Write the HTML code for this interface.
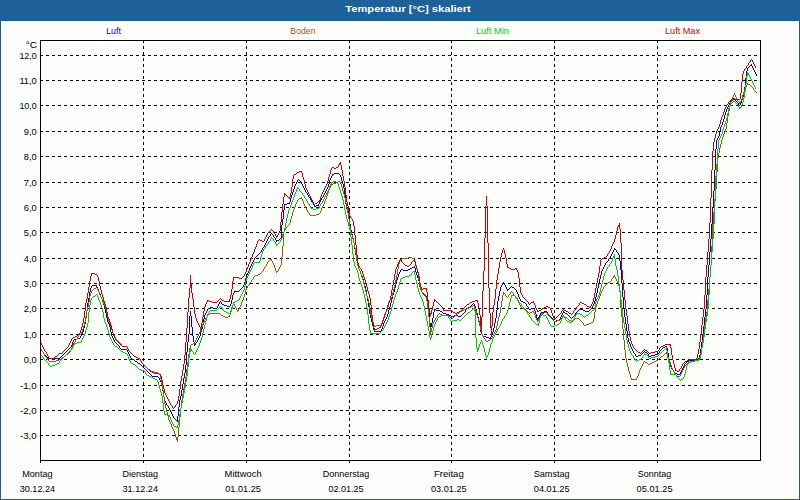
<!DOCTYPE html>
<html><head><meta charset="utf-8"><title>Temperatur</title>
<style>
html,body{margin:0;padding:0;background:#fcfefc;}
body{width:800px;height:500px;overflow:hidden;}
svg{display:block;font-family:"Liberation Sans",sans-serif;}
.g line{stroke:#000;stroke-width:1;stroke-dasharray:3 3;}
.ax{stroke:#000;stroke-width:1;fill:none;}
.c path{stroke:none;}
.t{font-size:9.8px;}
</style></head><body>
<svg width="800" height="500" viewBox="0 0 800 500">
<rect x="0" y="0" width="800" height="500" fill="#fcfefc"/>
<rect x="0" y="0" width="800" height="20" fill="#1e6098"/>
<rect x="0" y="20" width="800" height="1" fill="#1c5e96"/>
<rect x="0" y="20" width="1" height="480" fill="#1c5e96"/>
<rect x="799" y="20" width="1" height="480" fill="#1c5e96"/>
<rect x="0" y="499" width="800" height="1" fill="#1c5e96"/>
<text x="345.3" y="12" font-size="9.9px" font-weight="bold" fill="#fff" textLength="125.5" lengthAdjust="spacingAndGlyphs">Temperatur [°C] skaliert</text>

<text class="t" x="106.2" y="33.7" fill="#0000dd" text-anchor="start" textLength="14.8" lengthAdjust="spacingAndGlyphs">Luft</text>
<text class="t" x="290.3" y="33.7" fill="#9a5a08" text-anchor="start" textLength="25.3" lengthAdjust="spacingAndGlyphs">Boden</text>
<text class="t" x="475.9" y="33.7" fill="#00cc00" text-anchor="start" textLength="33.1" lengthAdjust="spacingAndGlyphs">Luft Min</text>
<text class="t" x="665" y="33.7" fill="#cc0000" text-anchor="start" textLength="35" lengthAdjust="spacingAndGlyphs">Luft Max</text>
<g class="g" shape-rendering="crispEdges">
<line x1="40" y1="435.5" x2="760" y2="435.5"/>
<line x1="40" y1="410.5" x2="760" y2="410.5"/>
<line x1="40" y1="385.5" x2="760" y2="385.5"/>
<line x1="40" y1="359.5" x2="760" y2="359.5"/>
<line x1="40" y1="334.5" x2="760" y2="334.5"/>
<line x1="40" y1="308.5" x2="760" y2="308.5"/>
<line x1="40" y1="283.5" x2="760" y2="283.5"/>
<line x1="40" y1="258.5" x2="760" y2="258.5"/>
<line x1="40" y1="232.5" x2="760" y2="232.5"/>
<line x1="40" y1="207.5" x2="760" y2="207.5"/>
<line x1="40" y1="182.5" x2="760" y2="182.5"/>
<line x1="40" y1="156.5" x2="760" y2="156.5"/>
<line x1="40" y1="131.5" x2="760" y2="131.5"/>
<line x1="40" y1="105.5" x2="760" y2="105.5"/>
<line x1="40" y1="80.5" x2="760" y2="80.5"/>
<line x1="40" y1="55.5" x2="760" y2="55.5"/>
<line x1="143.5" y1="40" x2="143.5" y2="460"/>
<line x1="246.5" y1="40" x2="246.5" y2="460"/>
<line x1="349.5" y1="40" x2="349.5" y2="460"/>
<line x1="451.5" y1="40" x2="451.5" y2="460"/>
<line x1="554.5" y1="40" x2="554.5" y2="460"/>
<line x1="657.5" y1="40" x2="657.5" y2="460"/>
</g>
<g class="c" shape-rendering="crispEdges">
<path fill="#0000dd" d="M41 349h1v2h-1zM43 352h1v2h-1zM71 345h1v2h-1zM72 342h1v3h-1zM73 340h1v2h-1zM80 336h1v2h-1zM81 334h1v2h-1zM82 332h1v2h-1zM83 328h1v4h-1zM84 324h1v4h-1zM85 318h1v6h-1zM86 311h1v7h-1zM87 303h1v8h-1zM88 298h1v5h-1zM89 292h1v6h-1zM90 288h1v4h-1zM91 286h1v2h-1zM96 285h1v2h-1zM97 287h1v2h-1zM98 289h1v3h-1zM99 292h1v2h-1zM100 294h1v3h-1zM101 297h1v2h-1zM102 299h1v3h-1zM103 302h1v3h-1zM104 305h1v4h-1zM105 309h1v4h-1zM106 313h1v5h-1zM107 318h1v4h-1zM108 322h1v2h-1zM109 324h1v3h-1zM110 327h1v5h-1zM111 332h1v4h-1zM112 336h1v2h-1zM113 338h1v2h-1zM114 340h1v2h-1zM119 346h1v2h-1zM127 350h1v2h-1zM128 352h1v2h-1zM129 354h1v2h-1zM130 356h1v2h-1zM159 378h1v2h-1zM160 380h1v2h-1zM161 382h1v4h-1zM162 386h1v5h-1zM163 391h1v6h-1zM164 397h1v4h-1zM165 401h1v2h-1zM166 403h1v2h-1zM168 406h1v2h-1zM169 408h1v2h-1zM170 410h1v2h-1zM171 412h1v2h-1zM172 414h1v2h-1zM173 416h1v2h-1zM177 416h1v6h-1zM178 407h1v9h-1zM179 400h1v7h-1zM180 396h1v4h-1zM181 390h1v6h-1zM182 384h1v6h-1zM183 378h1v6h-1zM184 373h1v5h-1zM185 365h1v8h-1zM186 352h1v13h-1zM187 342h1v10h-1zM188 334h1v8h-1zM189 316h1v18h-1zM190 311h1v5h-1zM191 316h1v11h-1zM192 327h1v9h-1zM193 336h1v6h-1zM194 342h1v4h-1zM195 343h1v2h-1zM197 340h1v2h-1zM198 338h1v2h-1zM199 336h1v2h-1zM200 332h1v4h-1zM201 329h1v3h-1zM202 325h1v4h-1zM203 319h1v6h-1zM204 315h1v4h-1zM205 313h1v2h-1zM206 311h1v2h-1zM207 309h1v2h-1zM217 306h1v2h-1zM218 304h1v2h-1zM219 302h1v2h-1zM221 302h1v2h-1zM230 304h1v2h-1zM231 300h1v4h-1zM232 295h1v5h-1zM233 293h1v2h-1zM234 291h1v2h-1zM243 285h1v2h-1zM244 282h1v3h-1zM245 278h1v4h-1zM246 275h1v3h-1zM247 273h1v2h-1zM248 271h1v2h-1zM249 268h1v3h-1zM250 266h1v2h-1zM251 264h1v2h-1zM252 262h1v2h-1zM253 260h1v2h-1zM254 258h1v2h-1zM261 250h1v2h-1zM262 248h1v2h-1zM264 245h1v2h-1zM265 243h1v2h-1zM266 241h1v2h-1zM267 239h1v2h-1zM268 237h1v2h-1zM270 234h1v2h-1zM273 235h1v2h-1zM275 238h1v2h-1zM276 240h1v2h-1zM281 225h1v13h-1zM282 219h1v6h-1zM283 210h1v9h-1zM284 204h1v6h-1zM289 202h1v2h-1zM290 198h1v4h-1zM291 195h1v3h-1zM292 192h1v3h-1zM293 189h1v3h-1zM294 186h1v3h-1zM295 184h1v2h-1zM296 182h1v2h-1zM297 180h1v2h-1zM301 182h1v2h-1zM302 184h1v2h-1zM303 186h1v2h-1zM304 188h1v2h-1zM305 190h1v2h-1zM307 193h1v2h-1zM308 195h1v2h-1zM310 198h1v2h-1zM311 200h1v2h-1zM313 203h1v2h-1zM314 205h1v2h-1zM318 204h1v2h-1zM319 202h1v2h-1zM320 200h1v2h-1zM321 198h1v2h-1zM323 195h1v2h-1zM324 193h1v2h-1zM325 191h1v2h-1zM326 189h1v2h-1zM327 187h1v2h-1zM328 184h1v3h-1zM329 180h1v4h-1zM330 178h1v2h-1zM331 176h1v2h-1zM332 174h1v2h-1zM340 175h1v2h-1zM341 177h1v4h-1zM342 181h1v3h-1zM343 184h1v4h-1zM344 188h1v7h-1zM345 195h1v9h-1zM346 204h1v5h-1zM347 209h1v2h-1zM348 211h1v5h-1zM349 216h1v8h-1zM350 224h1v6h-1zM351 230h1v4h-1zM352 234h1v4h-1zM353 238h1v5h-1zM354 243h1v6h-1zM355 249h1v6h-1zM356 255h1v6h-1zM357 261h1v5h-1zM358 266h1v3h-1zM359 269h1v2h-1zM360 271h1v3h-1zM361 274h1v2h-1zM362 276h1v3h-1zM363 279h1v4h-1zM364 283h1v3h-1zM365 286h1v4h-1zM366 290h1v6h-1zM367 296h1v5h-1zM368 301h1v6h-1zM369 307h1v7h-1zM370 314h1v4h-1zM371 318h1v4h-1zM372 322h1v4h-1zM373 326h1v4h-1zM374 330h1v2h-1zM381 329h1v2h-1zM382 326h1v3h-1zM383 323h1v3h-1zM384 321h1v2h-1zM385 319h1v2h-1zM386 317h1v2h-1zM387 314h1v3h-1zM388 310h1v4h-1zM389 307h1v3h-1zM390 303h1v4h-1zM391 299h1v4h-1zM392 295h1v4h-1zM393 292h1v3h-1zM394 288h1v4h-1zM395 284h1v4h-1zM396 280h1v4h-1zM397 277h1v3h-1zM398 274h1v3h-1zM399 272h1v2h-1zM400 270h1v2h-1zM414 266h1v2h-1zM415 268h1v4h-1zM416 272h1v3h-1zM417 275h1v3h-1zM418 278h1v3h-1zM419 281h1v6h-1zM420 287h1v3h-1zM421 290h1v2h-1zM426 296h1v3h-1zM427 299h1v4h-1zM428 303h1v9h-1zM429 312h1v11h-1zM430 323h1v6h-1zM431 323h1v4h-1zM432 318h1v5h-1zM433 312h1v6h-1zM434 309h1v3h-1zM465 310h1v2h-1zM474 304h1v2h-1zM475 306h1v3h-1zM476 309h1v4h-1zM477 313h1v4h-1zM478 317h1v4h-1zM479 321h1v5h-1zM480 326h1v6h-1zM481 332h1v2h-1zM482 334h1v2h-1zM490 337h1v2h-1zM491 335h1v2h-1zM492 332h1v3h-1zM493 328h1v4h-1zM494 323h1v5h-1zM495 318h1v5h-1zM496 310h1v8h-1zM497 301h1v9h-1zM498 296h1v5h-1zM499 291h1v5h-1zM500 287h1v4h-1zM501 285h1v2h-1zM502 283h1v2h-1zM504 283h1v2h-1zM505 285h1v2h-1zM506 287h1v2h-1zM507 289h1v2h-1zM516 290h1v2h-1zM517 292h1v2h-1zM518 294h1v3h-1zM519 297h1v2h-1zM520 299h1v2h-1zM526 304h1v2h-1zM528 307h1v2h-1zM534 309h1v2h-1zM535 311h1v3h-1zM536 314h1v4h-1zM537 318h1v2h-1zM538 317h1v2h-1zM539 315h1v2h-1zM540 313h1v2h-1zM547 312h1v2h-1zM553 319h1v2h-1zM560 317h1v2h-1zM561 315h1v2h-1zM562 313h1v2h-1zM563 311h1v2h-1zM575 313h1v2h-1zM592 306h1v2h-1zM593 304h1v2h-1zM594 301h1v3h-1zM595 297h1v4h-1zM596 293h1v4h-1zM597 288h1v5h-1zM598 283h1v5h-1zM599 279h1v4h-1zM600 275h1v4h-1zM601 271h1v4h-1zM602 269h1v2h-1zM603 267h1v2h-1zM604 265h1v2h-1zM605 263h1v2h-1zM608 259h1v2h-1zM610 256h1v2h-1zM611 254h1v2h-1zM612 252h1v2h-1zM613 250h1v2h-1zM614 248h1v2h-1zM616 250h1v2h-1zM618 253h1v2h-1zM619 255h1v6h-1zM620 261h1v9h-1zM621 270h1v13h-1zM622 283h1v14h-1zM623 297h1v11h-1zM624 308h1v9h-1zM625 317h1v7h-1zM626 324h1v7h-1zM627 331h1v7h-1zM628 338h1v4h-1zM629 342h1v2h-1zM630 344h1v3h-1zM631 347h1v2h-1zM632 349h1v2h-1zM633 351h1v2h-1zM635 354h1v2h-1zM648 354h1v2h-1zM659 351h1v2h-1zM666 346h1v2h-1zM667 348h1v5h-1zM668 353h1v6h-1zM669 359h1v5h-1zM670 364h1v3h-1zM671 367h1v2h-1zM673 370h1v2h-1zM680 372h1v2h-1zM681 370h1v2h-1zM682 368h1v2h-1zM683 366h1v2h-1zM684 364h1v2h-1zM699 355h1v3h-1zM700 349h1v6h-1zM701 342h1v7h-1zM702 334h1v8h-1zM703 326h1v8h-1zM704 317h1v9h-1zM705 309h1v8h-1zM706 295h1v14h-1zM707 277h1v18h-1zM708 265h1v12h-1zM709 252h1v13h-1zM710 239h1v13h-1zM711 224h1v15h-1zM712 207h1v17h-1zM713 191h1v16h-1zM714 170h1v21h-1zM715 149h1v21h-1zM716 140h1v9h-1zM717 138h1v2h-1zM718 136h1v2h-1zM719 132h1v4h-1zM720 127h1v5h-1zM721 125h1v2h-1zM722 122h1v3h-1zM723 119h1v3h-1zM724 115h1v4h-1zM725 112h1v3h-1zM726 109h1v3h-1zM727 107h1v2h-1zM728 105h1v2h-1zM729 103h1v2h-1zM730 101h1v2h-1zM738 103h1v2h-1zM740 103h1v2h-1zM741 100h1v3h-1zM742 97h1v3h-1zM743 93h1v4h-1zM744 87h1v6h-1zM745 78h1v9h-1zM746 71h1v7h-1zM747 68h1v3h-1zM751 64h1v2h-1zM752 66h1v2h-1zM753 68h1v2h-1zM754 70h1v2h-1zM755 72h1v2h-1zM756 74h1v2h-1zM750 65h1v1h-1zM749 66h1v1h-1zM748 67h1v1h-1zM733 99h2v1h-2zM731 100h2v1h-2zM735 100h1v1h-1zM736 101h1v1h-1zM737 102h1v1h-1zM739 105h1v1h-1zM334 173h5v1h-5zM333 174h1v1h-1zM339 174h1v1h-1zM298 179h1v1h-1zM299 180h1v1h-1zM300 181h1v1h-1zM306 192h1v1h-1zM309 197h1v1h-1zM322 197h1v1h-1zM312 202h1v1h-1zM287 203h2v1h-2zM285 204h2v1h-2zM316 205h2v1h-2zM315 206h1v1h-1zM271 233h1v1h-1zM272 234h1v1h-1zM269 236h1v1h-1zM274 237h1v1h-1zM280 238h1v1h-1zM279 239h1v1h-1zM277 240h2v1h-2zM263 247h1v1h-1zM615 249h1v1h-1zM260 252h1v1h-1zM617 252h1v1h-1zM259 253h1v1h-1zM258 254h1v1h-1zM257 255h1v1h-1zM256 256h1v1h-1zM255 257h1v1h-1zM609 258h1v1h-1zM607 261h1v1h-1zM606 262h1v1h-1zM412 267h2v1h-2zM410 268h2v1h-2zM401 269h2v1h-2zM408 269h2v1h-2zM403 270h5v1h-5zM503 282h1v1h-1zM92 285h4v1h-4zM511 286h1v1h-1zM242 287h1v1h-1zM510 287h1v1h-1zM512 287h2v1h-2zM241 288h1v1h-1zM509 288h1v1h-1zM514 288h1v1h-1zM240 289h1v1h-1zM508 289h1v1h-1zM515 289h1v1h-1zM239 290h1v1h-1zM235 291h4v1h-4zM422 292h1v1h-1zM423 293h1v1h-1zM424 294h1v1h-1zM425 295h1v1h-1zM220 301h1v1h-1zM521 301h2v1h-2zM523 302h2v1h-2zM473 303h1v1h-1zM525 303h1v1h-1zM222 304h2v1h-2zM472 304h1v1h-1zM224 305h3v1h-3zM471 305h1v1h-1zM227 306h3v1h-3zM470 306h1v1h-1zM527 306h1v1h-1zM210 307h3v1h-3zM468 307h2v1h-2zM208 308h2v1h-2zM213 308h4v1h-4zM467 308h1v1h-1zM531 308h3v1h-3zM591 308h1v1h-1zM435 309h1v1h-1zM466 309h1v1h-1zM529 309h2v1h-2zM579 309h4v1h-4zM590 309h1v1h-1zM436 310h4v1h-4zM578 310h1v1h-1zM583 310h2v1h-2zM589 310h1v1h-1zM440 311h2v1h-2zM544 311h3v1h-3zM577 311h1v1h-1zM585 311h4v1h-4zM442 312h1v1h-1zM464 312h1v1h-1zM541 312h3v1h-3zM564 312h1v1h-1zM576 312h1v1h-1zM443 313h3v1h-3zM463 313h1v1h-1zM565 313h2v1h-2zM446 314h3v1h-3zM462 314h1v1h-1zM548 314h1v1h-1zM567 314h1v1h-1zM449 315h2v1h-2zM454 315h4v1h-4zM461 315h1v1h-1zM549 315h1v1h-1zM568 315h1v1h-1zM574 315h1v1h-1zM451 316h3v1h-3zM458 316h3v1h-3zM550 316h1v1h-1zM569 316h1v1h-1zM573 316h1v1h-1zM551 317h1v1h-1zM570 317h1v1h-1zM572 317h1v1h-1zM552 318h1v1h-1zM571 318h1v1h-1zM559 319h1v1h-1zM556 320h3v1h-3zM554 321h2v1h-2zM375 331h6v1h-6zM483 336h3v1h-3zM486 337h3v1h-3zM77 338h3v1h-3zM489 338h1v1h-1zM74 339h3v1h-3zM115 342h1v1h-1zM196 342h1v1h-1zM116 343h1v1h-1zM117 344h1v1h-1zM118 345h1v1h-1zM665 346h1v1h-1zM70 347h1v1h-1zM663 347h2v1h-2zM40 348h1v1h-1zM69 348h1v1h-1zM120 348h1v1h-1zM662 348h1v1h-1zM68 349h1v1h-1zM121 349h6v1h-6zM661 349h1v1h-1zM67 350h1v1h-1zM660 350h1v1h-1zM42 351h1v1h-1zM66 351h1v1h-1zM644 351h1v1h-1zM65 352h1v1h-1zM643 352h1v1h-1zM645 352h2v1h-2zM64 353h1v1h-1zM634 353h1v1h-1zM642 353h1v1h-1zM647 353h1v1h-1zM658 353h1v1h-1zM44 354h1v1h-1zM63 354h1v1h-1zM641 354h1v1h-1zM655 354h3v1h-3zM45 355h1v1h-1zM62 355h1v1h-1zM638 355h3v1h-3zM651 355h4v1h-4zM46 356h1v1h-1zM61 356h1v1h-1zM636 356h2v1h-2zM649 356h2v1h-2zM47 357h1v1h-1zM60 357h1v1h-1zM48 358h12v1h-12zM131 358h1v1h-1zM698 358h1v1h-1zM132 359h2v1h-2zM694 359h4v1h-4zM134 360h1v1h-1zM689 360h5v1h-5zM135 361h2v1h-2zM687 361h2v1h-2zM137 362h1v1h-1zM686 362h1v1h-1zM138 363h2v1h-2zM685 363h1v1h-1zM140 364h1v1h-1zM141 365h1v1h-1zM142 366h1v1h-1zM143 367h1v1h-1zM144 368h1v1h-1zM145 369h1v1h-1zM672 369h1v1h-1zM146 370h1v1h-1zM147 371h1v1h-1zM148 372h1v1h-1zM674 372h1v1h-1zM149 373h1v1h-1zM675 373h2v1h-2zM150 374h1v1h-1zM677 374h3v1h-3zM151 375h1v1h-1zM152 376h6v1h-6zM158 377h1v1h-1zM167 405h1v1h-1zM174 418h1v1h-1zM175 419h1v1h-1zM176 420h1v1h-1z"/>
<path fill="#9a5a08" d="M41 349h1v2h-1zM43 352h1v2h-1zM44 354h1v2h-1zM47 358h1v2h-1zM70 350h1v2h-1zM71 348h1v2h-1zM72 345h1v3h-1zM73 343h1v2h-1zM75 340h1v2h-1zM77 337h1v2h-1zM78 335h1v2h-1zM81 332h1v2h-1zM82 329h1v3h-1zM83 326h1v3h-1zM84 322h1v4h-1zM85 317h1v5h-1zM86 311h1v6h-1zM87 307h1v4h-1zM88 302h1v5h-1zM89 296h1v6h-1zM90 293h1v3h-1zM91 291h1v2h-1zM97 288h1v2h-1zM98 290h1v2h-1zM99 292h1v3h-1zM100 295h1v2h-1zM101 297h1v2h-1zM102 299h1v2h-1zM103 301h1v3h-1zM104 304h1v2h-1zM105 306h1v3h-1zM106 309h1v4h-1zM107 313h1v5h-1zM108 318h1v4h-1zM109 322h1v2h-1zM110 324h1v3h-1zM111 327h1v3h-1zM112 330h1v3h-1zM113 333h1v2h-1zM114 335h1v2h-1zM115 337h1v2h-1zM121 344h1v2h-1zM127 347h1v2h-1zM128 349h1v2h-1zM140 359h1v2h-1zM141 361h1v2h-1zM160 375h1v4h-1zM161 379h1v6h-1zM162 385h1v5h-1zM163 390h1v7h-1zM164 397h1v7h-1zM165 404h1v4h-1zM166 408h1v4h-1zM167 412h1v4h-1zM168 416h1v4h-1zM169 420h1v2h-1zM170 422h1v2h-1zM171 424h1v3h-1zM172 427h1v2h-1zM173 429h1v2h-1zM174 431h1v3h-1zM175 434h1v3h-1zM176 437h1v3h-1zM177 437h1v5h-1zM178 427h1v10h-1zM179 417h1v10h-1zM180 408h1v9h-1zM181 400h1v8h-1zM182 394h1v6h-1zM183 388h1v6h-1zM184 383h1v5h-1zM185 377h1v6h-1zM186 369h1v8h-1zM187 362h1v7h-1zM188 354h1v8h-1zM189 348h1v6h-1zM190 345h1v3h-1zM194 342h1v2h-1zM195 340h1v2h-1zM196 338h1v2h-1zM197 336h1v2h-1zM198 334h1v2h-1zM199 332h1v2h-1zM200 329h1v3h-1zM201 327h1v2h-1zM202 324h1v3h-1zM203 322h1v2h-1zM204 320h1v2h-1zM205 318h1v2h-1zM207 315h1v2h-1zM229 315h1v2h-1zM230 311h1v4h-1zM231 307h1v4h-1zM232 305h1v2h-1zM233 303h1v2h-1zM234 304h1v2h-1zM235 306h1v2h-1zM236 308h1v2h-1zM237 310h1v2h-1zM238 309h1v2h-1zM239 307h1v2h-1zM240 305h1v2h-1zM241 302h1v3h-1zM242 300h1v2h-1zM243 297h1v3h-1zM244 294h1v3h-1zM245 290h1v4h-1zM246 288h1v2h-1zM247 286h1v2h-1zM249 283h1v2h-1zM251 280h1v2h-1zM253 277h1v2h-1zM263 269h1v2h-1zM264 267h1v2h-1zM266 264h1v2h-1zM267 262h1v2h-1zM271 259h1v2h-1zM272 261h1v2h-1zM273 263h1v2h-1zM274 265h1v3h-1zM275 268h1v3h-1zM276 271h1v2h-1zM278 269h1v2h-1zM279 267h1v2h-1zM280 265h1v2h-1zM281 257h1v8h-1zM282 246h1v11h-1zM283 232h1v14h-1zM284 230h1v2h-1zM285 228h1v2h-1zM289 223h1v2h-1zM290 219h1v4h-1zM291 216h1v3h-1zM292 212h1v4h-1zM293 209h1v3h-1zM294 207h1v2h-1zM295 204h1v3h-1zM296 202h1v2h-1zM297 200h1v2h-1zM301 197h1v2h-1zM302 199h1v2h-1zM303 201h1v3h-1zM304 204h1v2h-1zM305 206h1v2h-1zM306 208h1v2h-1zM307 210h1v2h-1zM309 213h1v2h-1zM320 211h1v2h-1zM321 208h1v3h-1zM322 206h1v2h-1zM323 204h1v2h-1zM324 201h1v3h-1zM325 199h1v2h-1zM326 196h1v3h-1zM327 193h1v3h-1zM328 190h1v3h-1zM329 188h1v2h-1zM330 186h1v2h-1zM331 184h1v2h-1zM340 182h1v2h-1zM341 184h1v3h-1zM342 187h1v4h-1zM343 191h1v3h-1zM344 194h1v4h-1zM345 198h1v5h-1zM346 203h1v5h-1zM347 208h1v5h-1zM348 213h1v6h-1zM349 219h1v7h-1zM350 226h1v6h-1zM351 232h1v3h-1zM352 235h1v4h-1zM353 239h1v4h-1zM354 243h1v5h-1zM355 248h1v6h-1zM356 254h1v7h-1zM357 261h1v5h-1zM358 266h1v3h-1zM359 269h1v2h-1zM360 271h1v3h-1zM361 274h1v3h-1zM362 277h1v3h-1zM363 280h1v4h-1zM364 284h1v4h-1zM365 288h1v4h-1zM366 292h1v4h-1zM367 296h1v3h-1zM368 299h1v4h-1zM369 303h1v6h-1zM370 309h1v6h-1zM371 315h1v4h-1zM372 319h1v3h-1zM373 322h1v3h-1zM374 325h1v2h-1zM381 323h1v2h-1zM382 320h1v3h-1zM383 317h1v3h-1zM384 314h1v3h-1zM385 312h1v2h-1zM386 310h1v2h-1zM387 307h1v3h-1zM388 303h1v4h-1zM389 300h1v3h-1zM391 297h1v2h-1zM392 293h1v4h-1zM393 289h1v4h-1zM394 285h1v4h-1zM395 280h1v5h-1zM396 275h1v5h-1zM397 269h1v6h-1zM398 264h1v5h-1zM399 261h1v3h-1zM400 259h1v2h-1zM414 259h1v2h-1zM415 261h1v4h-1zM416 265h1v4h-1zM417 269h1v4h-1zM418 273h1v7h-1zM419 280h1v6h-1zM420 286h1v4h-1zM421 290h1v2h-1zM422 292h1v2h-1zM426 297h1v4h-1zM427 301h1v8h-1zM428 309h1v8h-1zM429 317h1v10h-1zM430 327h1v7h-1zM431 328h1v4h-1zM432 324h1v4h-1zM433 322h1v2h-1zM434 320h1v2h-1zM435 318h1v2h-1zM437 315h1v2h-1zM474 306h1v2h-1zM475 308h1v3h-1zM476 311h1v4h-1zM477 315h1v3h-1zM478 318h1v4h-1zM479 322h1v4h-1zM480 326h1v4h-1zM481 330h1v4h-1zM482 334h1v2h-1zM483 336h1v2h-1zM485 339h1v2h-1zM492 336h1v2h-1zM493 334h1v2h-1zM494 332h1v2h-1zM495 330h1v2h-1zM496 326h1v4h-1zM497 321h1v5h-1zM498 317h1v4h-1zM499 313h1v4h-1zM500 307h1v6h-1zM501 301h1v6h-1zM502 295h1v6h-1zM503 292h1v3h-1zM505 294h1v2h-1zM508 295h1v2h-1zM510 292h1v2h-1zM513 293h1v2h-1zM515 296h1v2h-1zM517 299h1v2h-1zM518 301h1v2h-1zM519 303h1v2h-1zM520 305h1v2h-1zM533 311h1v2h-1zM534 313h1v2h-1zM535 315h1v3h-1zM536 318h1v2h-1zM537 320h1v2h-1zM538 319h1v2h-1zM539 317h1v2h-1zM540 315h1v2h-1zM541 313h1v2h-1zM547 313h1v2h-1zM562 316h1v2h-1zM583 323h1v2h-1zM593 319h1v3h-1zM594 312h1v7h-1zM595 307h1v5h-1zM596 304h1v3h-1zM597 301h1v3h-1zM598 299h1v2h-1zM599 296h1v3h-1zM600 293h1v3h-1zM601 291h1v2h-1zM602 289h1v2h-1zM603 287h1v2h-1zM611 279h1v2h-1zM613 276h1v2h-1zM614 275h1v2h-1zM615 277h1v2h-1zM616 279h1v2h-1zM617 281h1v2h-1zM618 283h1v3h-1zM619 286h1v5h-1zM620 291h1v17h-1zM621 308h1v9h-1zM622 317h1v12h-1zM623 329h1v11h-1zM624 340h1v10h-1zM625 350h1v8h-1zM626 358h1v5h-1zM627 363h1v4h-1zM628 367h1v4h-1zM629 371h1v3h-1zM630 374h1v4h-1zM631 378h1v2h-1zM636 378h1v2h-1zM637 376h1v2h-1zM638 373h1v3h-1zM639 370h1v3h-1zM640 368h1v2h-1zM641 366h1v2h-1zM642 364h1v2h-1zM643 362h1v2h-1zM666 352h1v2h-1zM667 354h1v3h-1zM668 357h1v3h-1zM669 360h1v2h-1zM670 362h1v3h-1zM671 365h1v3h-1zM672 368h1v2h-1zM673 370h1v2h-1zM674 372h1v2h-1zM680 374h1v2h-1zM681 372h1v2h-1zM682 370h1v2h-1zM683 368h1v2h-1zM684 366h1v2h-1zM699 357h1v2h-1zM700 353h1v4h-1zM701 347h1v6h-1zM702 340h1v7h-1zM703 333h1v7h-1zM704 325h1v8h-1zM705 318h1v7h-1zM706 312h1v6h-1zM707 300h1v12h-1zM708 289h1v11h-1zM709 277h1v12h-1zM710 265h1v12h-1zM711 246h1v19h-1zM712 224h1v22h-1zM713 212h1v12h-1zM714 201h1v11h-1zM715 189h1v12h-1zM716 172h1v17h-1zM717 158h1v14h-1zM718 153h1v5h-1zM719 148h1v5h-1zM720 144h1v4h-1zM721 140h1v4h-1zM722 137h1v3h-1zM723 134h1v3h-1zM724 132h1v2h-1zM725 129h1v3h-1zM726 123h1v6h-1zM727 116h1v7h-1zM728 111h1v5h-1zM729 106h1v5h-1zM730 102h1v4h-1zM731 100h1v2h-1zM732 97h1v3h-1zM733 95h1v2h-1zM734 93h1v2h-1zM735 95h1v2h-1zM736 97h1v2h-1zM737 99h1v2h-1zM739 102h1v2h-1zM740 101h1v2h-1zM741 99h1v2h-1zM742 95h1v4h-1zM743 92h1v3h-1zM744 89h1v3h-1zM745 87h1v2h-1zM746 85h1v2h-1zM747 83h1v2h-1zM753 88h1v2h-1zM748 84h2v1h-2zM750 85h1v1h-1zM751 86h1v1h-1zM752 87h1v1h-1zM754 90h1v1h-1zM755 91h1v1h-1zM756 92h1v1h-1zM738 101h1v1h-1zM338 181h2v1h-2zM336 182h2v1h-2zM333 183h3v1h-3zM332 184h1v1h-1zM299 198h2v1h-2zM298 199h1v1h-1zM308 212h1v1h-1zM319 213h1v1h-1zM316 214h3v1h-3zM310 215h6v1h-6zM288 225h1v1h-1zM287 226h1v1h-1zM286 227h1v1h-1zM408 257h4v1h-4zM402 258h6v1h-6zM412 258h2v1h-2zM270 259h1v1h-1zM401 259h1v1h-1zM269 260h1v1h-1zM268 261h1v1h-1zM265 266h1v1h-1zM262 271h1v1h-1zM277 271h1v1h-1zM261 272h1v1h-1zM260 273h1v1h-1zM258 274h2v1h-2zM255 275h3v1h-3zM254 276h1v1h-1zM612 278h1v1h-1zM252 279h1v1h-1zM610 281h1v1h-1zM250 282h1v1h-1zM608 282h2v1h-2zM607 283h1v1h-1zM606 284h1v1h-1zM248 285h1v1h-1zM605 285h1v1h-1zM604 286h1v1h-1zM96 287h1v1h-1zM94 288h2v1h-2zM93 289h1v1h-1zM92 290h1v1h-1zM511 291h1v1h-1zM512 292h1v1h-1zM504 293h1v1h-1zM423 294h1v1h-1zM509 294h1v1h-1zM424 295h1v1h-1zM514 295h1v1h-1zM425 296h1v1h-1zM506 296h1v1h-1zM507 297h1v1h-1zM516 298h1v1h-1zM390 299h1v1h-1zM473 305h1v1h-1zM471 306h2v1h-2zM469 307h2v1h-2zM521 307h1v1h-1zM467 308h2v1h-2zM522 308h2v1h-2zM464 309h3v1h-3zM524 309h1v1h-1zM462 310h2v1h-2zM525 310h2v1h-2zM460 311h2v1h-2zM527 311h1v1h-1zM532 311h1v1h-1zM459 312h1v1h-1zM528 312h1v1h-1zM530 312h2v1h-2zM544 312h3v1h-3zM210 313h10v1h-10zM439 313h1v1h-1zM457 313h2v1h-2zM529 313h1v1h-1zM542 313h2v1h-2zM208 314h2v1h-2zM220 314h1v1h-1zM438 314h1v1h-1zM440 314h2v1h-2zM456 314h1v1h-1zM221 315h2v1h-2zM442 315h7v1h-7zM455 315h1v1h-1zM548 315h1v1h-1zM563 315h1v1h-1zM223 316h2v1h-2zM228 316h1v1h-1zM449 316h1v1h-1zM454 316h1v1h-1zM549 316h1v1h-1zM564 316h1v1h-1zM206 317h1v1h-1zM225 317h3v1h-3zM436 317h1v1h-1zM450 317h2v1h-2zM453 317h1v1h-1zM550 317h1v1h-1zM565 317h2v1h-2zM452 318h1v1h-1zM551 318h1v1h-1zM561 318h1v1h-1zM567 318h1v1h-1zM575 318h4v1h-4zM552 319h1v1h-1zM560 319h1v1h-1zM568 319h1v1h-1zM573 319h2v1h-2zM579 319h1v1h-1zM553 320h1v1h-1zM557 320h3v1h-3zM569 320h2v1h-2zM572 320h1v1h-1zM580 320h1v1h-1zM554 321h3v1h-3zM571 321h1v1h-1zM581 321h1v1h-1zM582 322h1v1h-1zM591 322h2v1h-2zM589 323h2v1h-2zM586 324h3v1h-3zM376 325h5v1h-5zM584 325h2v1h-2zM375 326h1v1h-1zM79 334h2v1h-2zM484 338h1v1h-1zM491 338h1v1h-1zM76 339h1v1h-1zM116 339h1v1h-1zM490 339h1v1h-1zM117 340h1v1h-1zM488 340h2v1h-2zM118 341h1v1h-1zM486 341h2v1h-2zM74 342h1v1h-1zM119 342h1v1h-1zM120 343h1v1h-1zM193 343h1v1h-1zM191 344h2v1h-2zM122 346h5v1h-5zM40 348h1v1h-1zM42 351h1v1h-1zM129 351h1v1h-1zM69 352h1v1h-1zM130 352h1v1h-1zM68 353h1v1h-1zM131 353h1v1h-1zM665 353h1v1h-1zM66 354h2v1h-2zM132 354h1v1h-1zM664 354h1v1h-1zM65 355h1v1h-1zM133 355h1v1h-1zM663 355h1v1h-1zM45 356h1v1h-1zM64 356h1v1h-1zM134 356h2v1h-2zM661 356h2v1h-2zM46 357h1v1h-1zM62 357h2v1h-2zM136 357h2v1h-2zM660 357h1v1h-1zM61 358h1v1h-1zM138 358h2v1h-2zM659 358h1v1h-1zM59 359h2v1h-2zM658 359h1v1h-1zM698 359h1v1h-1zM48 360h1v1h-1zM56 360h3v1h-3zM656 360h2v1h-2zM694 360h4v1h-4zM49 361h7v1h-7zM644 361h1v1h-1zM654 361h2v1h-2zM690 361h4v1h-4zM645 362h2v1h-2zM652 362h2v1h-2zM688 362h2v1h-2zM142 363h1v1h-1zM647 363h1v1h-1zM650 363h2v1h-2zM687 363h1v1h-1zM143 364h1v1h-1zM648 364h2v1h-2zM686 364h1v1h-1zM144 365h1v1h-1zM685 365h1v1h-1zM145 366h1v1h-1zM146 367h1v1h-1zM147 368h1v1h-1zM148 369h2v1h-2zM150 370h1v1h-1zM151 371h3v1h-3zM154 372h4v1h-4zM158 373h1v1h-1zM159 374h1v1h-1zM675 374h1v1h-1zM676 375h1v1h-1zM677 376h3v1h-3zM632 379h4v1h-4z"/>
<path fill="#00cc00" d="M43 357h1v2h-1zM48 363h1v2h-1zM59 361h1v2h-1zM72 347h1v2h-1zM73 345h1v2h-1zM74 343h1v2h-1zM81 340h1v2h-1zM82 338h1v2h-1zM83 336h1v2h-1zM84 334h1v2h-1zM85 330h1v4h-1zM86 327h1v3h-1zM87 323h1v4h-1zM88 312h1v11h-1zM89 305h1v7h-1zM90 300h1v5h-1zM91 298h1v2h-1zM97 295h1v2h-1zM98 297h1v3h-1zM99 300h1v2h-1zM100 302h1v3h-1zM101 305h1v3h-1zM102 308h1v4h-1zM103 312h1v6h-1zM104 318h1v4h-1zM105 322h1v2h-1zM106 324h1v3h-1zM107 327h1v3h-1zM108 330h1v4h-1zM109 334h1v3h-1zM110 337h1v2h-1zM111 339h1v2h-1zM112 341h1v2h-1zM113 343h1v2h-1zM127 354h1v2h-1zM128 356h1v3h-1zM129 359h1v2h-1zM130 361h1v2h-1zM145 372h1v2h-1zM157 380h1v2h-1zM158 382h1v3h-1zM159 385h1v4h-1zM160 389h1v3h-1zM161 392h1v4h-1zM162 396h1v7h-1zM163 403h1v8h-1zM164 411h1v4h-1zM169 415h1v2h-1zM170 417h1v3h-1zM171 420h1v2h-1zM172 422h1v2h-1zM173 424h1v2h-1zM177 425h1v3h-1zM178 420h1v5h-1zM179 414h1v6h-1zM180 408h1v6h-1zM181 403h1v5h-1zM182 398h1v5h-1zM183 393h1v5h-1zM184 388h1v5h-1zM185 382h1v6h-1zM186 376h1v6h-1zM187 367h1v9h-1zM188 358h1v9h-1zM189 352h1v6h-1zM190 348h1v4h-1zM191 349h1v2h-1zM193 352h1v2h-1zM195 352h1v2h-1zM196 350h1v2h-1zM197 348h1v2h-1zM198 346h1v2h-1zM199 343h1v3h-1zM200 340h1v3h-1zM201 337h1v3h-1zM202 333h1v4h-1zM203 329h1v4h-1zM204 325h1v4h-1zM205 321h1v4h-1zM206 317h1v4h-1zM207 314h1v3h-1zM209 311h1v2h-1zM222 308h1v2h-1zM230 312h1v2h-1zM231 309h1v3h-1zM232 305h1v4h-1zM233 302h1v3h-1zM239 298h1v2h-1zM240 296h1v2h-1zM241 294h1v2h-1zM242 292h1v2h-1zM243 290h1v2h-1zM244 286h1v4h-1zM245 281h1v5h-1zM246 278h1v3h-1zM247 276h1v2h-1zM248 274h1v2h-1zM249 272h1v2h-1zM250 270h1v2h-1zM251 268h1v2h-1zM252 265h1v3h-1zM253 263h1v2h-1zM259 261h1v2h-1zM260 257h1v4h-1zM261 254h1v3h-1zM262 251h1v3h-1zM263 249h1v2h-1zM265 246h1v2h-1zM268 242h1v2h-1zM270 239h1v2h-1zM271 237h1v2h-1zM273 239h1v2h-1zM275 242h1v2h-1zM276 244h1v2h-1zM280 240h1v2h-1zM281 238h1v2h-1zM282 234h1v4h-1zM283 232h1v2h-1zM284 228h1v4h-1zM285 223h1v5h-1zM286 218h1v5h-1zM287 214h1v4h-1zM288 210h1v4h-1zM289 208h1v2h-1zM290 205h1v3h-1zM291 202h1v3h-1zM292 200h1v2h-1zM293 197h1v3h-1zM294 194h1v3h-1zM295 192h1v2h-1zM296 189h1v3h-1zM297 187h1v2h-1zM299 189h1v2h-1zM302 193h1v2h-1zM304 196h1v2h-1zM306 199h1v2h-1zM307 201h1v2h-1zM309 204h1v2h-1zM310 206h1v2h-1zM319 206h1v2h-1zM320 204h1v2h-1zM322 201h1v2h-1zM323 199h1v2h-1zM324 197h1v2h-1zM325 195h1v2h-1zM326 193h1v2h-1zM327 191h1v2h-1zM328 189h1v2h-1zM329 186h1v3h-1zM330 184h1v2h-1zM331 182h1v2h-1zM337 182h1v2h-1zM338 184h1v3h-1zM339 187h1v3h-1zM340 190h1v3h-1zM341 193h1v3h-1zM342 196h1v4h-1zM343 200h1v5h-1zM344 205h1v5h-1zM345 210h1v5h-1zM346 215h1v4h-1zM347 219h1v3h-1zM348 222h1v4h-1zM349 226h1v4h-1zM350 230h1v7h-1zM351 237h1v8h-1zM352 245h1v9h-1zM353 254h1v8h-1zM354 262h1v4h-1zM355 266h1v2h-1zM356 268h1v2h-1zM357 270h1v3h-1zM358 273h1v5h-1zM359 278h1v3h-1zM360 281h1v3h-1zM361 284h1v3h-1zM362 287h1v3h-1zM363 290h1v4h-1zM364 294h1v4h-1zM365 298h1v5h-1zM366 303h1v5h-1zM367 308h1v7h-1zM368 315h1v9h-1zM369 324h1v6h-1zM370 330h1v4h-1zM383 328h1v2h-1zM384 326h1v2h-1zM385 324h1v2h-1zM386 322h1v2h-1zM387 320h1v2h-1zM388 317h1v3h-1zM389 314h1v3h-1zM390 311h1v3h-1zM391 307h1v4h-1zM392 304h1v3h-1zM393 300h1v4h-1zM394 297h1v3h-1zM395 294h1v3h-1zM396 292h1v2h-1zM397 289h1v3h-1zM398 285h1v4h-1zM399 282h1v3h-1zM400 279h1v3h-1zM411 273h1v2h-1zM414 271h1v4h-1zM415 275h1v5h-1zM416 280h1v4h-1zM417 284h1v4h-1zM418 288h1v4h-1zM419 292h1v3h-1zM420 295h1v2h-1zM421 297h1v2h-1zM422 299h1v3h-1zM423 302h1v4h-1zM424 306h1v5h-1zM425 311h1v5h-1zM426 316h1v5h-1zM427 321h1v5h-1zM428 326h1v5h-1zM429 331h1v6h-1zM430 337h1v3h-1zM431 334h1v4h-1zM432 331h1v3h-1zM433 327h1v4h-1zM434 324h1v3h-1zM435 322h1v2h-1zM436 320h1v2h-1zM437 318h1v2h-1zM448 316h1v2h-1zM450 319h1v2h-1zM474 307h1v4h-1zM475 311h1v27h-1zM476 338h1v10h-1zM477 348h1v4h-1zM478 347h1v3h-1zM479 344h1v3h-1zM480 342h1v2h-1zM481 340h1v2h-1zM482 342h1v3h-1zM483 345h1v3h-1zM484 348h1v4h-1zM485 352h1v4h-1zM486 356h1v3h-1zM487 355h1v2h-1zM488 352h1v3h-1zM489 348h1v4h-1zM490 344h1v4h-1zM491 342h1v2h-1zM492 339h1v3h-1zM493 337h1v2h-1zM494 335h1v2h-1zM495 333h1v2h-1zM496 331h1v2h-1zM497 329h1v2h-1zM499 326h1v2h-1zM500 324h1v2h-1zM501 321h1v3h-1zM502 319h1v2h-1zM504 316h1v2h-1zM506 313h1v2h-1zM507 310h1v3h-1zM508 306h1v4h-1zM509 302h1v4h-1zM510 298h1v4h-1zM511 295h1v3h-1zM517 298h1v2h-1zM518 300h1v2h-1zM521 304h1v2h-1zM526 310h1v2h-1zM527 312h1v2h-1zM529 315h1v2h-1zM531 318h1v2h-1zM538 323h1v3h-1zM539 318h1v5h-1zM540 316h1v2h-1zM541 314h1v2h-1zM546 316h1v2h-1zM547 318h1v2h-1zM548 320h1v2h-1zM549 322h1v2h-1zM550 324h1v2h-1zM560 321h1v2h-1zM561 319h1v2h-1zM562 317h1v2h-1zM563 315h1v2h-1zM564 316h1v2h-1zM565 318h1v2h-1zM573 319h1v2h-1zM574 317h1v2h-1zM575 315h1v2h-1zM576 313h1v2h-1zM594 307h1v3h-1zM595 302h1v5h-1zM596 299h1v3h-1zM597 297h1v2h-1zM598 295h1v2h-1zM599 292h1v3h-1zM600 288h1v4h-1zM601 284h1v4h-1zM602 280h1v4h-1zM603 276h1v4h-1zM604 273h1v3h-1zM605 271h1v2h-1zM606 269h1v2h-1zM607 267h1v2h-1zM609 264h1v2h-1zM611 261h1v2h-1zM612 258h1v3h-1zM613 256h1v2h-1zM614 254h1v5h-1zM615 259h1v7h-1zM616 266h1v4h-1zM617 270h1v6h-1zM618 276h1v8h-1zM619 284h1v8h-1zM620 292h1v8h-1zM621 300h1v9h-1zM622 309h1v8h-1zM623 317h1v6h-1zM624 323h1v5h-1zM625 328h1v6h-1zM626 334h1v6h-1zM627 340h1v4h-1zM628 344h1v4h-1zM629 348h1v3h-1zM630 351h1v2h-1zM631 353h1v2h-1zM633 356h1v2h-1zM635 359h1v2h-1zM643 355h1v2h-1zM644 353h1v2h-1zM648 356h1v2h-1zM666 347h1v4h-1zM667 351h1v7h-1zM668 358h1v5h-1zM669 363h1v7h-1zM670 370h1v5h-1zM676 375h1v2h-1zM683 377h1v2h-1zM684 374h1v3h-1zM685 370h1v4h-1zM686 366h1v4h-1zM687 364h1v2h-1zM700 355h1v4h-1zM701 348h1v7h-1zM702 343h1v5h-1zM703 337h1v6h-1zM704 329h1v8h-1zM705 322h1v7h-1zM706 316h1v6h-1zM707 309h1v7h-1zM708 295h1v14h-1zM709 277h1v18h-1zM710 265h1v12h-1zM711 252h1v13h-1zM712 239h1v13h-1zM713 224h1v15h-1zM714 199h1v25h-1zM715 176h1v23h-1zM716 164h1v12h-1zM717 149h1v15h-1zM718 140h1v9h-1zM719 138h1v2h-1zM720 136h1v2h-1zM721 134h1v2h-1zM722 130h1v4h-1zM723 127h1v3h-1zM724 124h1v3h-1zM725 121h1v3h-1zM726 118h1v3h-1zM727 113h1v5h-1zM728 108h1v5h-1zM729 106h1v2h-1zM730 104h1v2h-1zM738 105h1v2h-1zM739 107h1v2h-1zM741 105h1v2h-1zM742 102h1v3h-1zM743 98h1v4h-1zM744 92h1v6h-1zM745 84h1v8h-1zM746 76h1v8h-1zM747 72h1v4h-1zM748 73h1v2h-1zM749 75h1v2h-1zM750 77h1v2h-1zM751 79h1v2h-1zM752 81h1v2h-1zM753 83h1v2h-1zM754 85h1v2h-1zM755 87h1v2h-1zM733 101h2v1h-2zM732 102h1v1h-1zM735 102h1v1h-1zM731 103h1v1h-1zM736 103h1v1h-1zM737 104h1v1h-1zM740 107h1v1h-1zM333 181h3v1h-3zM332 182h1v1h-1zM336 182h1v1h-1zM298 188h1v1h-1zM300 191h1v1h-1zM301 192h1v1h-1zM303 195h1v1h-1zM305 198h1v1h-1zM308 203h1v1h-1zM321 203h1v1h-1zM311 208h2v1h-2zM316 208h3v1h-3zM313 209h3v1h-3zM272 238h1v1h-1zM269 241h1v1h-1zM274 241h1v1h-1zM279 242h1v1h-1zM278 243h1v1h-1zM267 244h1v1h-1zM277 244h1v1h-1zM266 245h1v1h-1zM264 248h1v1h-1zM254 262h5v1h-5zM610 263h1v1h-1zM608 266h1v1h-1zM413 271h1v1h-1zM412 272h1v1h-1zM409 275h2v1h-2zM405 276h4v1h-4zM403 277h2v1h-2zM401 278h2v1h-2zM96 294h1v1h-1zM95 295h1v1h-1zM512 295h3v1h-3zM93 296h2v1h-2zM515 296h1v1h-1zM92 297h1v1h-1zM516 297h1v1h-1zM237 300h2v1h-2zM235 301h2v1h-2zM234 302h1v1h-1zM519 302h1v1h-1zM520 303h1v1h-1zM220 306h1v1h-1zM522 306h1v1h-1zM219 307h1v1h-1zM221 307h1v1h-1zM523 307h1v1h-1zM218 308h1v1h-1zM473 308h1v1h-1zM524 308h1v1h-1zM217 309h1v1h-1zM472 309h1v1h-1zM525 309h1v1h-1zM210 310h7v1h-7zM223 310h1v1h-1zM471 310h1v1h-1zM592 310h2v1h-2zM224 311h2v1h-2zM470 311h1v1h-1zM591 311h1v1h-1zM226 312h2v1h-2zM468 312h2v1h-2zM590 312h1v1h-1zM208 313h1v1h-1zM228 313h2v1h-2zM467 313h1v1h-1zM577 313h3v1h-3zM589 313h1v1h-1zM466 314h1v1h-1zM528 314h1v1h-1zM542 314h1v1h-1zM580 314h2v1h-2zM588 314h1v1h-1zM441 315h7v1h-7zM465 315h1v1h-1zM505 315h1v1h-1zM543 315h3v1h-3zM582 315h1v1h-1zM586 315h2v1h-2zM439 316h2v1h-2zM464 316h1v1h-1zM583 316h1v1h-1zM585 316h1v1h-1zM438 317h1v1h-1zM463 317h1v1h-1zM530 317h1v1h-1zM584 317h1v1h-1zM449 318h1v1h-1zM462 318h1v1h-1zM503 318h1v1h-1zM457 319h2v1h-2zM461 319h1v1h-1zM453 320h4v1h-4zM459 320h2v1h-2zM532 320h1v1h-1zM566 320h1v1h-1zM451 321h2v1h-2zM533 321h1v1h-1zM567 321h2v1h-2zM572 321h1v1h-1zM534 322h1v1h-1zM569 322h3v1h-3zM535 323h1v1h-1zM559 323h1v1h-1zM536 324h2v1h-2zM557 324h2v1h-2zM555 325h2v1h-2zM551 326h4v1h-4zM498 328h1v1h-1zM382 330h1v1h-1zM381 331h1v1h-1zM380 332h1v1h-1zM371 333h9v1h-9zM77 342h4v1h-4zM75 343h2v1h-2zM114 345h1v1h-1zM115 346h2v1h-2zM117 347h1v1h-1zM118 348h1v1h-1zM665 348h1v1h-1zM71 349h1v1h-1zM119 349h1v1h-1zM664 349h1v1h-1zM70 350h1v1h-1zM120 350h1v1h-1zM663 350h1v1h-1zM69 351h1v1h-1zM121 351h2v1h-2zM192 351h1v1h-1zM662 351h1v1h-1zM68 352h1v1h-1zM123 352h2v1h-2zM661 352h1v1h-1zM67 353h1v1h-1zM125 353h2v1h-2zM660 353h1v1h-1zM40 354h1v1h-1zM66 354h1v1h-1zM194 354h1v1h-1zM645 354h2v1h-2zM659 354h1v1h-1zM41 355h1v1h-1zM65 355h1v1h-1zM632 355h1v1h-1zM647 355h1v1h-1zM658 355h1v1h-1zM42 356h1v1h-1zM64 356h1v1h-1zM655 356h3v1h-3zM63 357h1v1h-1zM642 357h1v1h-1zM651 357h4v1h-4zM62 358h1v1h-1zM634 358h1v1h-1zM641 358h1v1h-1zM649 358h2v1h-2zM44 359h1v1h-1zM61 359h1v1h-1zM639 359h2v1h-2zM699 359h1v1h-1zM45 360h1v1h-1zM60 360h1v1h-1zM637 360h2v1h-2zM695 360h4v1h-4zM46 361h1v1h-1zM636 361h1v1h-1zM691 361h4v1h-4zM47 362h1v1h-1zM689 362h2v1h-2zM57 363h2v1h-2zM131 363h2v1h-2zM688 363h1v1h-1zM55 364h2v1h-2zM133 364h2v1h-2zM49 365h1v1h-1zM52 365h3v1h-3zM135 365h1v1h-1zM50 366h2v1h-2zM136 366h1v1h-1zM137 367h1v1h-1zM138 368h1v1h-1zM139 369h2v1h-2zM141 370h3v1h-3zM144 371h1v1h-1zM146 374h1v1h-1zM671 374h5v1h-5zM147 375h2v1h-2zM149 376h2v1h-2zM151 377h2v1h-2zM677 377h1v1h-1zM153 378h2v1h-2zM678 378h1v1h-1zM155 379h2v1h-2zM679 379h1v1h-1zM681 379h2v1h-2zM680 380h1v1h-1zM165 414h2v1h-2zM167 415h2v1h-2zM174 426h2v1h-2zM176 427h1v1h-1z"/>
<path fill="#cc0000" d="M41 343h1v2h-1zM42 345h1v2h-1zM43 347h1v2h-1zM44 349h1v2h-1zM46 352h1v2h-1zM47 354h1v2h-1zM48 356h1v2h-1zM68 345h1v2h-1zM69 343h1v2h-1zM70 341h1v2h-1zM71 339h1v2h-1zM79 333h1v2h-1zM80 330h1v3h-1zM81 327h1v3h-1zM82 323h1v4h-1zM83 318h1v5h-1zM84 311h1v7h-1zM85 303h1v8h-1zM86 299h1v4h-1zM87 293h1v6h-1zM88 287h1v6h-1zM89 281h1v6h-1zM90 276h1v5h-1zM91 273h1v3h-1zM97 275h1v2h-1zM98 277h1v4h-1zM99 281h1v5h-1zM100 286h1v4h-1zM101 290h1v4h-1zM102 294h1v3h-1zM103 297h1v4h-1zM104 301h1v3h-1zM105 304h1v3h-1zM106 307h1v5h-1zM107 312h1v5h-1zM108 317h1v2h-1zM109 319h1v3h-1zM110 322h1v3h-1zM111 325h1v4h-1zM112 329h1v4h-1zM113 333h1v3h-1zM114 336h1v2h-1zM115 338h1v2h-1zM127 347h1v2h-1zM128 349h1v2h-1zM140 359h1v2h-1zM141 361h1v2h-1zM160 374h1v2h-1zM161 376h1v4h-1zM162 380h1v5h-1zM163 385h1v4h-1zM164 389h1v4h-1zM165 393h1v2h-1zM166 395h1v2h-1zM167 397h1v2h-1zM168 399h1v2h-1zM169 401h1v2h-1zM170 403h1v2h-1zM172 406h1v2h-1zM175 405h1v2h-1zM177 401h1v3h-1zM178 396h1v5h-1zM179 389h1v7h-1zM180 381h1v8h-1zM181 376h1v5h-1zM182 370h1v6h-1zM183 364h1v6h-1zM184 355h1v9h-1zM185 342h1v13h-1zM186 328h1v14h-1zM187 312h1v16h-1zM188 298h1v14h-1zM189 288h1v10h-1zM190 275h1v13h-1zM191 283h1v10h-1zM192 293h1v6h-1zM193 299h1v8h-1zM194 307h1v7h-1zM195 314h1v4h-1zM196 318h1v3h-1zM197 321h1v2h-1zM198 323h1v2h-1zM199 325h1v2h-1zM200 327h1v2h-1zM201 323h1v4h-1zM202 317h1v6h-1zM203 311h1v6h-1zM204 307h1v4h-1zM205 304h1v3h-1zM206 302h1v2h-1zM207 300h1v2h-1zM229 299h1v3h-1zM230 295h1v4h-1zM231 289h1v6h-1zM232 281h1v8h-1zM233 277h1v4h-1zM244 274h1v2h-1zM245 272h1v2h-1zM246 269h1v3h-1zM247 267h1v2h-1zM248 264h1v3h-1zM249 262h1v2h-1zM250 259h1v3h-1zM251 257h1v2h-1zM252 254h1v3h-1zM253 252h1v2h-1zM254 249h1v3h-1zM255 247h1v2h-1zM256 244h1v3h-1zM257 241h1v3h-1zM264 239h1v2h-1zM265 237h1v2h-1zM266 235h1v2h-1zM267 233h1v2h-1zM273 231h1v2h-1zM275 234h1v2h-1zM276 236h1v2h-1zM277 235h1v2h-1zM278 233h1v2h-1zM279 231h1v2h-1zM280 222h1v9h-1zM281 212h1v10h-1zM282 204h1v8h-1zM283 197h1v7h-1zM284 193h1v4h-1zM289 197h1v2h-1zM290 193h1v4h-1zM291 187h1v6h-1zM292 179h1v8h-1zM293 175h1v4h-1zM301 171h1v2h-1zM302 173h1v4h-1zM303 177h1v3h-1zM304 180h1v4h-1zM305 184h1v4h-1zM306 188h1v2h-1zM307 190h1v2h-1zM308 192h1v2h-1zM309 194h1v2h-1zM310 196h1v2h-1zM311 198h1v2h-1zM312 200h1v2h-1zM313 202h1v2h-1zM319 200h1v2h-1zM320 197h1v3h-1zM321 194h1v3h-1zM322 192h1v2h-1zM323 190h1v2h-1zM324 188h1v2h-1zM325 186h1v2h-1zM326 184h1v2h-1zM327 181h1v3h-1zM328 177h1v4h-1zM329 174h1v3h-1zM330 170h1v4h-1zM331 168h1v2h-1zM338 165h1v2h-1zM339 163h1v2h-1zM340 162h1v3h-1zM341 165h1v5h-1zM342 170h1v6h-1zM343 176h1v5h-1zM344 181h1v6h-1zM345 187h1v8h-1zM346 195h1v7h-1zM347 202h1v4h-1zM348 206h1v5h-1zM349 211h1v5h-1zM350 216h1v2h-1zM352 219h1v2h-1zM353 221h1v5h-1zM354 226h1v9h-1zM355 235h1v10h-1zM356 245h1v10h-1zM357 255h1v8h-1zM358 263h1v3h-1zM359 266h1v2h-1zM361 269h1v2h-1zM362 271h1v3h-1zM363 274h1v3h-1zM364 277h1v3h-1zM365 280h1v4h-1zM366 284h1v3h-1zM367 287h1v4h-1zM368 291h1v3h-1zM369 294h1v4h-1zM370 298h1v7h-1zM371 305h1v10h-1zM372 315h1v8h-1zM373 323h1v5h-1zM374 328h1v3h-1zM380 326h1v2h-1zM381 324h1v2h-1zM382 321h1v3h-1zM383 318h1v3h-1zM384 315h1v3h-1zM385 312h1v3h-1zM386 309h1v3h-1zM387 305h1v4h-1zM388 302h1v3h-1zM389 300h1v2h-1zM390 296h1v4h-1zM391 290h1v6h-1zM392 285h1v5h-1zM393 280h1v5h-1zM394 274h1v6h-1zM395 269h1v5h-1zM396 267h1v2h-1zM397 264h1v3h-1zM398 262h1v2h-1zM399 260h1v2h-1zM401 260h1v2h-1zM411 262h1v2h-1zM414 259h1v3h-1zM415 262h1v4h-1zM416 266h1v3h-1zM417 269h1v3h-1zM418 272h1v4h-1zM419 276h1v7h-1zM420 283h1v4h-1zM421 287h1v3h-1zM426 288h1v4h-1zM427 292h1v8h-1zM428 300h1v8h-1zM429 308h1v5h-1zM430 313h1v3h-1zM431 310h1v4h-1zM432 306h1v4h-1zM433 302h1v4h-1zM434 299h1v3h-1zM442 307h1v2h-1zM443 309h1v2h-1zM477 300h1v3h-1zM478 303h1v6h-1zM479 309h1v6h-1zM480 315h1v11h-1zM481 317h1v17h-1zM482 291h1v26h-1zM483 271h1v20h-1zM484 238h1v33h-1zM485 206h1v32h-1zM486 196h1v10h-1zM487 206h1v37h-1zM488 243h1v45h-1zM489 288h1v25h-1zM490 313h1v15h-1zM491 326h1v10h-1zM492 312h1v14h-1zM493 305h1v7h-1zM494 299h1v6h-1zM495 289h1v10h-1zM496 280h1v9h-1zM497 274h1v6h-1zM498 268h1v6h-1zM499 262h1v6h-1zM500 257h1v5h-1zM501 253h1v4h-1zM502 250h1v3h-1zM503 248h1v2h-1zM504 250h1v4h-1zM505 254h1v4h-1zM506 258h1v6h-1zM507 264h1v4h-1zM516 268h1v2h-1zM517 270h1v2h-1zM518 272h1v6h-1zM519 278h1v9h-1zM520 287h1v6h-1zM521 293h1v2h-1zM522 295h1v2h-1zM528 302h1v2h-1zM533 301h1v2h-1zM534 303h1v2h-1zM535 305h1v3h-1zM536 308h1v2h-1zM537 310h1v2h-1zM550 308h1v2h-1zM551 310h1v3h-1zM552 313h1v3h-1zM553 316h1v2h-1zM554 318h1v2h-1zM561 311h1v2h-1zM573 311h1v2h-1zM576 307h1v2h-1zM579 303h1v2h-1zM590 306h1v2h-1zM591 304h1v2h-1zM592 302h1v2h-1zM593 298h1v4h-1zM594 293h1v5h-1zM595 288h1v5h-1zM596 283h1v5h-1zM597 278h1v5h-1zM598 273h1v5h-1zM599 266h1v7h-1zM600 260h1v6h-1zM607 254h1v2h-1zM609 251h1v2h-1zM610 249h1v2h-1zM611 246h1v3h-1zM612 244h1v2h-1zM613 242h1v2h-1zM614 239h1v3h-1zM615 235h1v4h-1zM616 231h1v4h-1zM617 227h1v4h-1zM618 225h1v2h-1zM619 223h1v6h-1zM620 229h1v14h-1zM621 243h1v27h-1zM622 270h1v10h-1zM623 280h1v10h-1zM624 290h1v10h-1zM625 300h1v9h-1zM626 309h1v7h-1zM627 316h1v8h-1zM628 324h1v7h-1zM629 331h1v6h-1zM630 337h1v4h-1zM631 341h1v3h-1zM632 344h1v2h-1zM633 346h1v2h-1zM659 348h1v2h-1zM670 344h1v4h-1zM671 348h1v7h-1zM672 355h1v5h-1zM673 360h1v4h-1zM674 364h1v4h-1zM675 368h1v3h-1zM679 369h1v2h-1zM681 366h1v2h-1zM682 364h1v2h-1zM696 358h1v2h-1zM697 354h1v4h-1zM698 349h1v5h-1zM699 342h1v7h-1zM700 334h1v8h-1zM701 325h1v9h-1zM702 317h1v8h-1zM703 309h1v8h-1zM704 295h1v14h-1zM705 277h1v18h-1zM706 265h1v12h-1zM707 252h1v13h-1zM708 239h1v13h-1zM709 223h1v16h-1zM710 198h1v25h-1zM711 170h1v28h-1zM712 151h1v19h-1zM713 142h1v9h-1zM714 138h1v4h-1zM715 134h1v4h-1zM716 131h1v3h-1zM717 129h1v2h-1zM718 127h1v2h-1zM719 124h1v3h-1zM720 120h1v4h-1zM721 117h1v3h-1zM722 115h1v2h-1zM723 112h1v3h-1zM724 109h1v3h-1zM725 107h1v2h-1zM726 105h1v2h-1zM728 102h1v2h-1zM740 93h1v6h-1zM741 82h1v11h-1zM742 74h1v8h-1zM743 71h1v3h-1zM744 69h1v2h-1zM746 66h1v2h-1zM748 63h1v2h-1zM750 60h1v2h-1zM752 60h1v2h-1zM753 62h1v2h-1zM754 64h1v2h-1zM755 66h1v2h-1zM751 59h1v1h-1zM749 62h1v1h-1zM747 65h1v1h-1zM745 68h1v1h-1zM732 98h3v1h-3zM731 99h1v1h-1zM735 99h2v1h-2zM738 99h2v1h-2zM730 100h1v1h-1zM737 100h1v1h-1zM729 101h1v1h-1zM727 104h1v1h-1zM332 167h2v1h-2zM336 167h2v1h-2zM334 168h2v1h-2zM299 171h2v1h-2zM297 172h2v1h-2zM296 173h1v1h-1zM294 174h2v1h-2zM285 194h1v1h-1zM286 195h1v1h-1zM287 196h1v1h-1zM288 197h1v1h-1zM318 201h1v1h-1zM317 202h1v1h-1zM315 203h2v1h-2zM314 204h1v1h-1zM351 218h1v1h-1zM271 229h1v1h-1zM270 230h1v1h-1zM272 230h1v1h-1zM269 231h1v1h-1zM268 232h1v1h-1zM274 233h1v1h-1zM259 239h1v1h-1zM258 240h1v1h-1zM260 240h2v1h-2zM262 241h2v1h-2zM608 253h1v1h-1zM606 256h1v1h-1zM604 257h2v1h-2zM602 258h2v1h-2zM400 259h1v1h-1zM601 259h1v1h-1zM413 260h1v1h-1zM412 261h1v1h-1zM402 262h1v1h-1zM403 263h1v1h-1zM404 264h1v1h-1zM410 264h1v1h-1zM405 265h2v1h-2zM409 265h1v1h-1zM407 266h2v1h-2zM508 267h1v1h-1zM360 268h1v1h-1zM509 268h2v1h-2zM515 268h1v1h-1zM511 269h4v1h-4zM92 273h3v1h-3zM95 274h2v1h-2zM243 276h1v1h-1zM234 277h5v1h-5zM242 277h1v1h-1zM239 278h3v1h-3zM423 288h3v1h-3zM422 289h1v1h-1zM523 297h1v1h-1zM220 298h1v1h-1zM524 298h1v1h-1zM219 299h1v1h-1zM221 299h1v1h-1zM525 299h1v1h-1zM208 300h1v1h-1zM218 300h1v1h-1zM222 300h2v1h-2zM435 300h1v1h-1zM475 300h2v1h-2zM526 300h1v1h-1zM209 301h3v1h-3zM217 301h1v1h-1zM224 301h5v1h-5zM436 301h1v1h-1zM472 301h3v1h-3zM527 301h1v1h-1zM212 302h5v1h-5zM437 302h1v1h-1zM470 302h2v1h-2zM531 302h2v1h-2zM580 302h2v1h-2zM438 303h1v1h-1zM469 303h1v1h-1zM530 303h1v1h-1zM582 303h2v1h-2zM439 304h1v1h-1zM467 304h2v1h-2zM529 304h1v1h-1zM584 304h2v1h-2zM440 305h1v1h-1zM466 305h1v1h-1zM578 305h1v1h-1zM586 305h1v1h-1zM441 306h1v1h-1zM465 306h1v1h-1zM546 306h2v1h-2zM577 306h1v1h-1zM587 306h2v1h-2zM464 307h1v1h-1zM544 307h2v1h-2zM548 307h2v1h-2zM589 307h1v1h-1zM463 308h1v1h-1zM542 308h2v1h-2zM462 309h1v1h-1zM541 309h1v1h-1zM563 309h1v1h-1zM575 309h1v1h-1zM444 310h8v1h-8zM461 310h1v1h-1zM539 310h2v1h-2zM562 310h1v1h-1zM564 310h2v1h-2zM574 310h1v1h-1zM452 311h1v1h-1zM459 311h2v1h-2zM538 311h1v1h-1zM566 311h2v1h-2zM453 312h2v1h-2zM457 312h2v1h-2zM568 312h1v1h-1zM455 313h2v1h-2zM560 313h1v1h-1zM569 313h2v1h-2zM572 313h1v1h-1zM559 314h1v1h-1zM571 314h1v1h-1zM558 315h1v1h-1zM557 316h1v1h-1zM556 317h1v1h-1zM555 318h1v1h-1zM379 327h1v1h-1zM377 328h2v1h-2zM375 329h2v1h-2zM78 334h1v1h-1zM77 335h1v1h-1zM75 336h2v1h-2zM73 337h2v1h-2zM72 338h1v1h-1zM116 340h1v1h-1zM117 341h1v1h-1zM40 342h1v1h-1zM118 342h1v1h-1zM119 343h1v1h-1zM120 344h1v1h-1zM665 344h5v1h-5zM121 345h1v1h-1zM663 345h2v1h-2zM122 346h5v1h-5zM661 346h2v1h-2zM67 347h1v1h-1zM660 347h1v1h-1zM66 348h1v1h-1zM634 348h1v1h-1zM65 349h1v1h-1zM635 349h1v1h-1zM644 349h1v1h-1zM64 350h1v1h-1zM636 350h1v1h-1zM643 350h1v1h-1zM645 350h2v1h-2zM658 350h1v1h-1zM45 351h1v1h-1zM63 351h1v1h-1zM129 351h1v1h-1zM637 351h1v1h-1zM642 351h1v1h-1zM647 351h1v1h-1zM655 351h3v1h-3zM62 352h1v1h-1zM130 352h1v1h-1zM638 352h2v1h-2zM641 352h1v1h-1zM648 352h1v1h-1zM651 352h4v1h-4zM59 353h3v1h-3zM131 353h1v1h-1zM640 353h1v1h-1zM649 353h2v1h-2zM58 354h1v1h-1zM132 354h1v1h-1zM57 355h1v1h-1zM133 355h1v1h-1zM55 356h2v1h-2zM134 356h2v1h-2zM54 357h1v1h-1zM136 357h2v1h-2zM49 358h5v1h-5zM138 358h2v1h-2zM689 359h7v1h-7zM687 360h2v1h-2zM685 361h2v1h-2zM684 362h1v1h-1zM142 363h1v1h-1zM683 363h1v1h-1zM143 364h1v1h-1zM144 365h1v1h-1zM145 366h1v1h-1zM146 367h1v1h-1zM147 368h1v1h-1zM680 368h1v1h-1zM148 369h1v1h-1zM149 370h1v1h-1zM676 370h1v1h-1zM150 371h2v1h-2zM677 371h2v1h-2zM152 372h2v1h-2zM154 373h5v1h-5zM159 374h1v1h-1zM176 404h1v1h-1zM171 405h1v1h-1zM174 407h1v1h-1zM173 408h1v1h-1z"/>
</g>
<g shape-rendering="crispEdges">
<rect class="ax" x="40.5" y="40.5" width="720" height="420"/>
<line class="ax" x1="40.5" y1="460" x2="40.5" y2="463"/>
<line class="ax" x1="143.5" y1="460" x2="143.5" y2="463"/>
<line class="ax" x1="246.5" y1="460" x2="246.5" y2="463"/>
<line class="ax" x1="349.5" y1="460" x2="349.5" y2="463"/>
<line class="ax" x1="451.5" y1="460" x2="451.5" y2="463"/>
<line class="ax" x1="554.5" y1="460" x2="554.5" y2="463"/>
<line class="ax" x1="657.5" y1="460" x2="657.5" y2="463"/>
</g>
<text class="t" x="37.2" y="48" fill="#000" text-anchor="end" textLength="11.5" lengthAdjust="spacingAndGlyphs">°C</text>
<text class="t" x="36.7" y="439" fill="#000" text-anchor="end" textLength="16.8" lengthAdjust="spacingAndGlyphs">-3,0</text>
<text class="t" x="36.7" y="414" fill="#000" text-anchor="end" textLength="16.8" lengthAdjust="spacingAndGlyphs">-2,0</text>
<text class="t" x="36.7" y="389" fill="#000" text-anchor="end" textLength="16.8" lengthAdjust="spacingAndGlyphs">-1,0</text>
<text class="t" x="36.7" y="363" fill="#000" text-anchor="end" textLength="13" lengthAdjust="spacingAndGlyphs">0,0</text>
<text class="t" x="36.7" y="338" fill="#000" text-anchor="end" textLength="13" lengthAdjust="spacingAndGlyphs">1,0</text>
<text class="t" x="36.7" y="312" fill="#000" text-anchor="end" textLength="13" lengthAdjust="spacingAndGlyphs">2,0</text>
<text class="t" x="36.7" y="287" fill="#000" text-anchor="end" textLength="13" lengthAdjust="spacingAndGlyphs">3,0</text>
<text class="t" x="36.7" y="262" fill="#000" text-anchor="end" textLength="13" lengthAdjust="spacingAndGlyphs">4,0</text>
<text class="t" x="36.7" y="236" fill="#000" text-anchor="end" textLength="13" lengthAdjust="spacingAndGlyphs">5,0</text>
<text class="t" x="36.7" y="211" fill="#000" text-anchor="end" textLength="13" lengthAdjust="spacingAndGlyphs">6,0</text>
<text class="t" x="36.7" y="186" fill="#000" text-anchor="end" textLength="13" lengthAdjust="spacingAndGlyphs">7,0</text>
<text class="t" x="36.7" y="160" fill="#000" text-anchor="end" textLength="13" lengthAdjust="spacingAndGlyphs">8,0</text>
<text class="t" x="36.7" y="135" fill="#000" text-anchor="end" textLength="13" lengthAdjust="spacingAndGlyphs">9,0</text>
<text class="t" x="36.7" y="109" fill="#000" text-anchor="end" textLength="17.3" lengthAdjust="spacingAndGlyphs">10,0</text>
<text class="t" x="36.7" y="84" fill="#000" text-anchor="end" textLength="17.3" lengthAdjust="spacingAndGlyphs">11,0</text>
<text class="t" x="36.7" y="59" fill="#000" text-anchor="end" textLength="17.3" lengthAdjust="spacingAndGlyphs">12,0</text>
<text class="t" x="37.4" y="477.3" fill="#000" text-anchor="middle" textLength="30.5" lengthAdjust="spacingAndGlyphs">Montag</text>
<text class="t" x="37.4" y="491.8" fill="#000" text-anchor="middle" textLength="35.5" lengthAdjust="spacingAndGlyphs">30.12.24</text>
<text class="t" x="140.257" y="477.3" fill="#000" text-anchor="middle" textLength="35.5" lengthAdjust="spacingAndGlyphs">Dienstag</text>
<text class="t" x="140.257" y="491.8" fill="#000" text-anchor="middle" textLength="35.5" lengthAdjust="spacingAndGlyphs">31.12.24</text>
<text class="t" x="243.114" y="477.3" fill="#000" text-anchor="middle" textLength="37" lengthAdjust="spacingAndGlyphs">Mittwoch</text>
<text class="t" x="243.114" y="491.8" fill="#000" text-anchor="middle" textLength="35.7" lengthAdjust="spacingAndGlyphs">01.01.25</text>
<text class="t" x="345.971" y="477.3" fill="#000" text-anchor="middle" textLength="46.5" lengthAdjust="spacingAndGlyphs">Donnerstag</text>
<text class="t" x="345.971" y="491.8" fill="#000" text-anchor="middle" textLength="35" lengthAdjust="spacingAndGlyphs">02.01.25</text>
<text class="t" x="448.829" y="477.3" fill="#000" text-anchor="middle" textLength="29.8" lengthAdjust="spacingAndGlyphs">Freitag</text>
<text class="t" x="448.829" y="491.8" fill="#000" text-anchor="middle" textLength="35.6" lengthAdjust="spacingAndGlyphs">03.01.25</text>
<text class="t" x="551.686" y="477.3" fill="#000" text-anchor="middle" textLength="36" lengthAdjust="spacingAndGlyphs">Samstag</text>
<text class="t" x="551.686" y="491.8" fill="#000" text-anchor="middle" textLength="35.7" lengthAdjust="spacingAndGlyphs">04.01.25</text>
<text class="t" x="654.543" y="477.3" fill="#000" text-anchor="middle" textLength="33.4" lengthAdjust="spacingAndGlyphs">Sonntag</text>
<text class="t" x="654.543" y="491.8" fill="#000" text-anchor="middle" textLength="36" lengthAdjust="spacingAndGlyphs">05.01.25</text>
</svg></body></html>
